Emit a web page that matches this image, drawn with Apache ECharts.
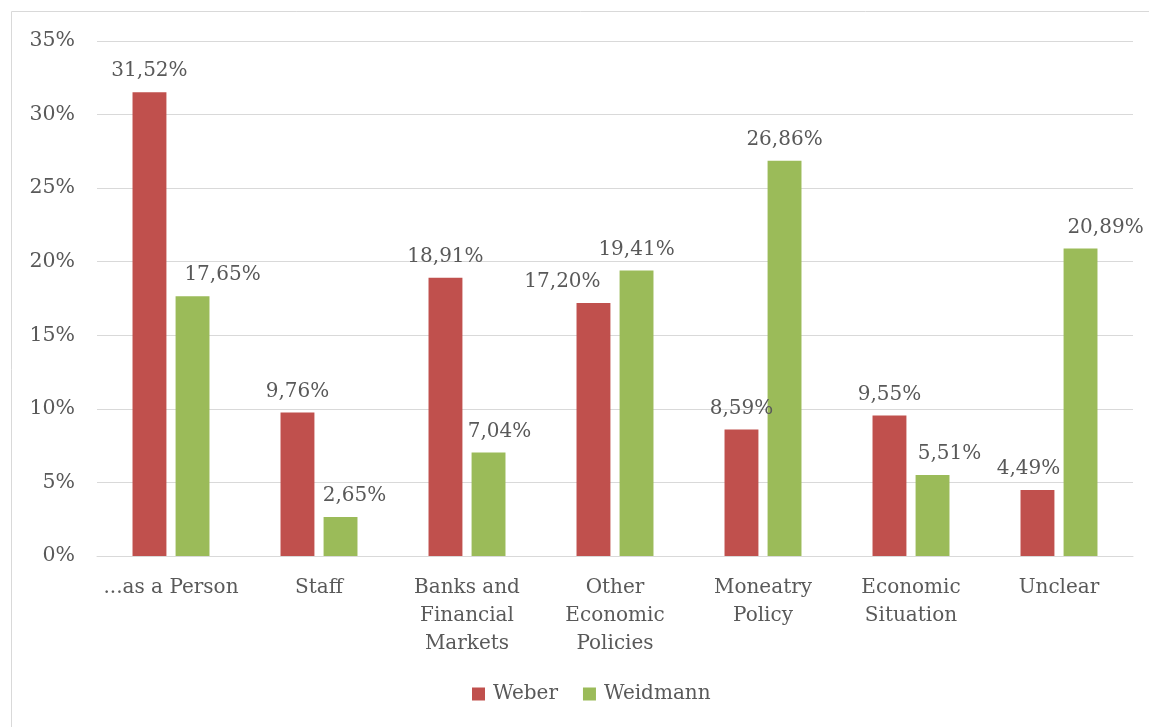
<!DOCTYPE html>
<html>
<head>
<meta charset="utf-8">
<script src="https://cdn.jsdelivr.net/npm/echarts@6/dist/echarts.min.js"></script>
<style>
  html, body { margin: 0; padding: 0; background: #fff; }
  #chart { width: 1149px; height: 727px; }
</style>
</head>
<body>
<div id="chart"></div>
<script>
// Topic categories (line breaks as shown under the axis)
const categories = [
  '...as a Person',
  'Staff',
  'Banks and\nFinancial\nMarkets',
  'Other\nEconomic\nPolicies',
  'Moneatry\nPolicy',
  'Economic\nSituation',
  'Unclear'
];
// Share of coverage per topic, in percent
const weber = [31.52, 9.76, 18.91, 17.20, 8.59, 9.55, 4.49];
const weidmann = [17.65, 2.65, 7.04, 19.41, 26.86, 5.51, 20.89];
// Horizontal nudges for value labels that would otherwise collide
const weberLabelShift = [0, 0, 0, -31, 0, 0, -9];
const weidmannLabelShift = [30, 14, 11, 0, 0, 17, 25];

const FONT = 'DejaVu Serif';
const TEXT = '#595959';
const fmt = v => v.toFixed(2).replace('.', ',') + '%';

function buildData(values, shifts) {
  return values.map((v, i) => ({
    value: v,
    label: { offset: [shifts[i], 0] }
  }));
}

const chart = echarts.init(document.getElementById('chart'), null, { renderer: 'canvas' });
chart.setOption({
  animation: false,
  textStyle: { fontFamily: FONT, color: TEXT },
  graphic: [{
    type: 'rect',
    shape: { x: 11.5, y: 11.5, width: 1200, height: 800 },
    style: { fill: 'none', stroke: '#d9d9d9', lineWidth: 1 },
    silent: true
  }],
  grid: { left: 97, right: 16, top: 41, bottom: 171, containLabel: false },
  legend: {
    bottom: 18,
    left: 467,
    icon: 'rect',
    itemWidth: 13,
    itemHeight: 13,
    itemGap: 25,
    textStyle: { fontFamily: FONT, fontSize: 20, color: TEXT, padding: [0, 0, 0, 3] },
    data: ['Weber', 'Weidmann']
  },
  xAxis: {
    type: 'category',
    data: categories,
    axisLine: { show: true, lineStyle: { color: '#d9d9d9', width: 1 } },
    axisTick: { show: false },
    axisLabel: {
      interval: 0,
      margin: 18,
      fontFamily: FONT,
      fontSize: 20,
      lineHeight: 28,
      color: TEXT
    }
  },
  yAxis: {
    type: 'value',
    min: 0,
    max: 35,
    interval: 5,
    axisLine: { show: false },
    axisTick: { show: false },
    splitLine: { lineStyle: { color: '#d9d9d9', width: 1 } },
    axisLabel: {
      margin: 22,
      fontFamily: FONT,
      fontSize: 20.5,
      color: TEXT,
      padding: [4, 0, 0, 0],
      formatter: v => v + '%'
    }
  },
  series: [
    {
      name: 'Weber',
      type: 'bar',
      data: buildData(weber, weberLabelShift),
      itemStyle: { color: '#C0504D' },
      barGap: '27%',
      barCategoryGap: '48%',
      label: {
        show: true,
        position: 'top',
        distance: 11,
        fontFamily: FONT,
        fontSize: 20,
        color: TEXT,
        formatter: p => fmt(p.value)
      }
    },
    {
      name: 'Weidmann',
      type: 'bar',
      data: buildData(weidmann, weidmannLabelShift),
      itemStyle: { color: '#9BBB59' },
      barGap: '27%',
      barCategoryGap: '48%',
      label: {
        show: true,
        position: 'top',
        distance: 11,
        fontFamily: FONT,
        fontSize: 20,
        color: TEXT,
        formatter: p => fmt(p.value)
      }
    }
  ]
});
</script>
</body>
</html>
